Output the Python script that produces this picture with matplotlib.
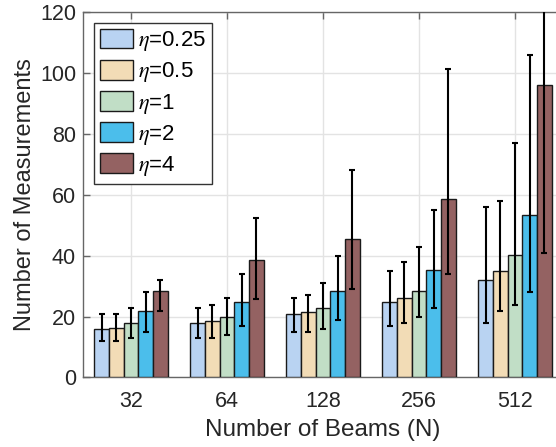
import numpy as np
import matplotlib
matplotlib.use("Agg")
import matplotlib.pyplot as plt

plt.rcParams["font.family"] = ["Liberation Sans", "DejaVu Sans"]
plt.rcParams["mathtext.fontset"] = "stix"

beams = ["32", "64", "128", "256", "512"]
etas = ["0.25", "0.5", "1", "2", "4"]
colors = ["#B9D3F2", "#F2DCB6", "#C1DEC6", "#4BBEEB", "#946262"]

# mean number of measurements, rows = eta, cols = N
means = [
    [15.8, 17.9, 20.7, 24.7, 31.9],
    [16.3, 18.5, 21.4, 26.0, 35.0],
    [17.9, 19.7, 22.7, 28.4, 40.3],
    [21.9, 24.9, 28.3, 35.3, 53.4],
    [28.3, 38.5, 45.5, 58.6, 96.0],
]
# lower / upper ends of the error bars
lows = [
    [12.0, 12.9, 15.0, 16.9, 17.9],
    [12.0, 12.9, 15.0, 18.0, 21.9],
    [12.9, 13.9, 16.0, 19.8, 23.9],
    [14.9, 16.9, 19.0, 22.8, 28.0],
    [21.8, 25.9, 28.9, 34.0, 41.0],
]
highs = [
    [20.9, 22.9, 26.0, 34.9, 55.9],
    [20.9, 23.9, 27.0, 38.0, 58.0],
    [22.9, 26.0, 31.0, 42.9, 77.0],
    [28.0, 34.0, 40.0, 55.0, 105.9],
    [32.0, 52.2, 68.0, 101.2, 150.0],
]

fig = plt.figure(figsize=(5.56, 4.47), dpi=100)
ax = fig.add_axes([0.1493, 0.1555, 0.8633, 0.8183])

x = np.arange(1, len(beams) + 1)
w = 0.153
axis_col = "#666666"
for i in range(len(etas)):
    m = np.array(means[i])
    lo = m - np.array(lows[i])
    hi = np.array(highs[i]) - m
    xs = x + (i - 2) * w
    ax.bar(xs, m, width=w, color=colors[i], edgecolor="#1a1a1a", linewidth=1.0,
           label=r"$\eta$=" + etas[i], zorder=3)
    ax.errorbar(xs, m, yerr=[lo, hi], fmt="none", ecolor="black", elinewidth=1.5,
                capsize=2.5, capthick=1.5, zorder=4)

ax.set_xlim(0.5, 5.5)
ax.set_ylim(0, 120)
ax.set_xticks(x)
ax.set_xticklabels(beams)
ax.set_yticks(np.arange(0, 121, 20))
ax.grid(True, color="#e3e3e3", linewidth=1.0, zorder=0)
ax.set_axisbelow(True)
ax.tick_params(direction="in", length=5, width=1, color=axis_col, labelsize=15.5,
               top=True, right=True, labelcolor="#262626")
ax.tick_params(axis="x", pad=10)
ax.tick_params(axis="y", pad=5)
for s in ax.spines.values():
    s.set_color(axis_col)
    s.set_linewidth(1.0)
ax.set_xlabel("Number of Beams (N)", fontsize=17.5, color="#262626", labelpad=5)
ax.set_ylabel("Number of Measurements", fontsize=17, color="#262626", labelpad=3)

leg = ax.legend(loc="upper left", bbox_to_anchor=(0.023, 0.969), fontsize=16,
                fancybox=False, edgecolor="#333333", framealpha=1,
                handlelength=1.5, handleheight=1.0, labelspacing=0.3,
                handletextpad=0.25, borderpad=0.25, borderaxespad=0)
leg.get_frame().set_linewidth(1.0)

fig.savefig("out.png", dpi=100)
